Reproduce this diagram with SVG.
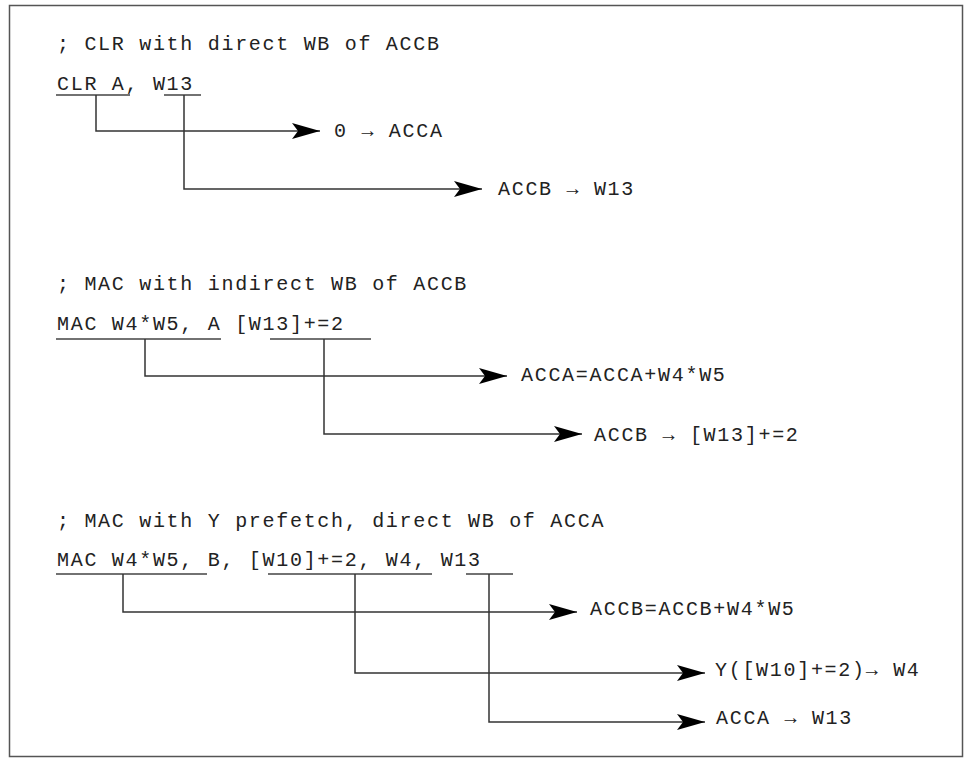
<svg xmlns="http://www.w3.org/2000/svg" width="971" height="762" viewBox="0 0 971 762">
<defs>
<marker id="ah" viewBox="0 0 28 16" refX="28" refY="8" markerWidth="28" markerHeight="16" markerUnits="userSpaceOnUse" orient="auto"><path d="M0,0 L28,8 L0,16 L6,8 Z" fill="#000"/></marker>
<style>
text{font-family:"Liberation Mono","Courier New",monospace;font-size:20px;letter-spacing:1.7px;fill:#222}
.u{stroke:#444;stroke-width:1.5;fill:none}
.c{stroke:#333;stroke-width:1.5;fill:none}
.a{stroke:#333;stroke-width:1.5;fill:none;marker-end:url(#ah)}
</style>
</defs>
<rect x="0" y="0" width="971" height="762" fill="#fff"/>
<rect x="9.5" y="5.5" width="953" height="751" fill="none" stroke="#555" stroke-width="1.5"/>
<g id="sec1">
<text x="57" y="50">; CLR with direct WB of ACCB</text>
<text x="57" y="90">CLR A, W13</text>
<path class="u" d="M56,95H130M164,95H201"/>
</g>
<g id="sec2">
<text x="57" y="290">; MAC with indirect WB of ACCB</text>
<text x="57" y="330">MAC W4*W5, A   [W13]+=2</text>
<path class="u" d="M56,339H221M270,339H371"/>
</g>
<g id="sec3">
<text x="57" y="527">; MAC with Y prefetch, direct WB of ACCA</text>
<text x="57" y="566">MAC W4*W5, B, [W10]+=2, W4, W13</text>
<path class="u" d="M56,574H207M268,574H432M466,574H513"/>
</g>
<g id="connectors">
<path class="a" d="M96,95V131H320"/>
<path class="a" d="M184,95V189H482"/>
<path class="a" d="M145,339V376H507"/>
<path class="a" d="M324,339V434H582"/>
<path class="a" d="M123,574V612H577"/>
<path class="a" d="M355,574V673H705"/>
<path class="a" d="M489,574V722H705"/>
</g>
<g id="labels">
<text x="334" y="137">0 → ACCA</text>
<text x="498" y="195">ACCB → W13</text>
<text x="521" y="381">ACCA=ACCA+W4*W5</text>
<text x="594" y="441">ACCB → [W13]+=2</text>
<text x="590" y="615">ACCB=ACCB+W4*W5</text>
<text x="715" y="676">Y([W10]+=2)→ W4</text>
<text x="716" y="724">ACCA → W13</text>
</g>
</svg>
